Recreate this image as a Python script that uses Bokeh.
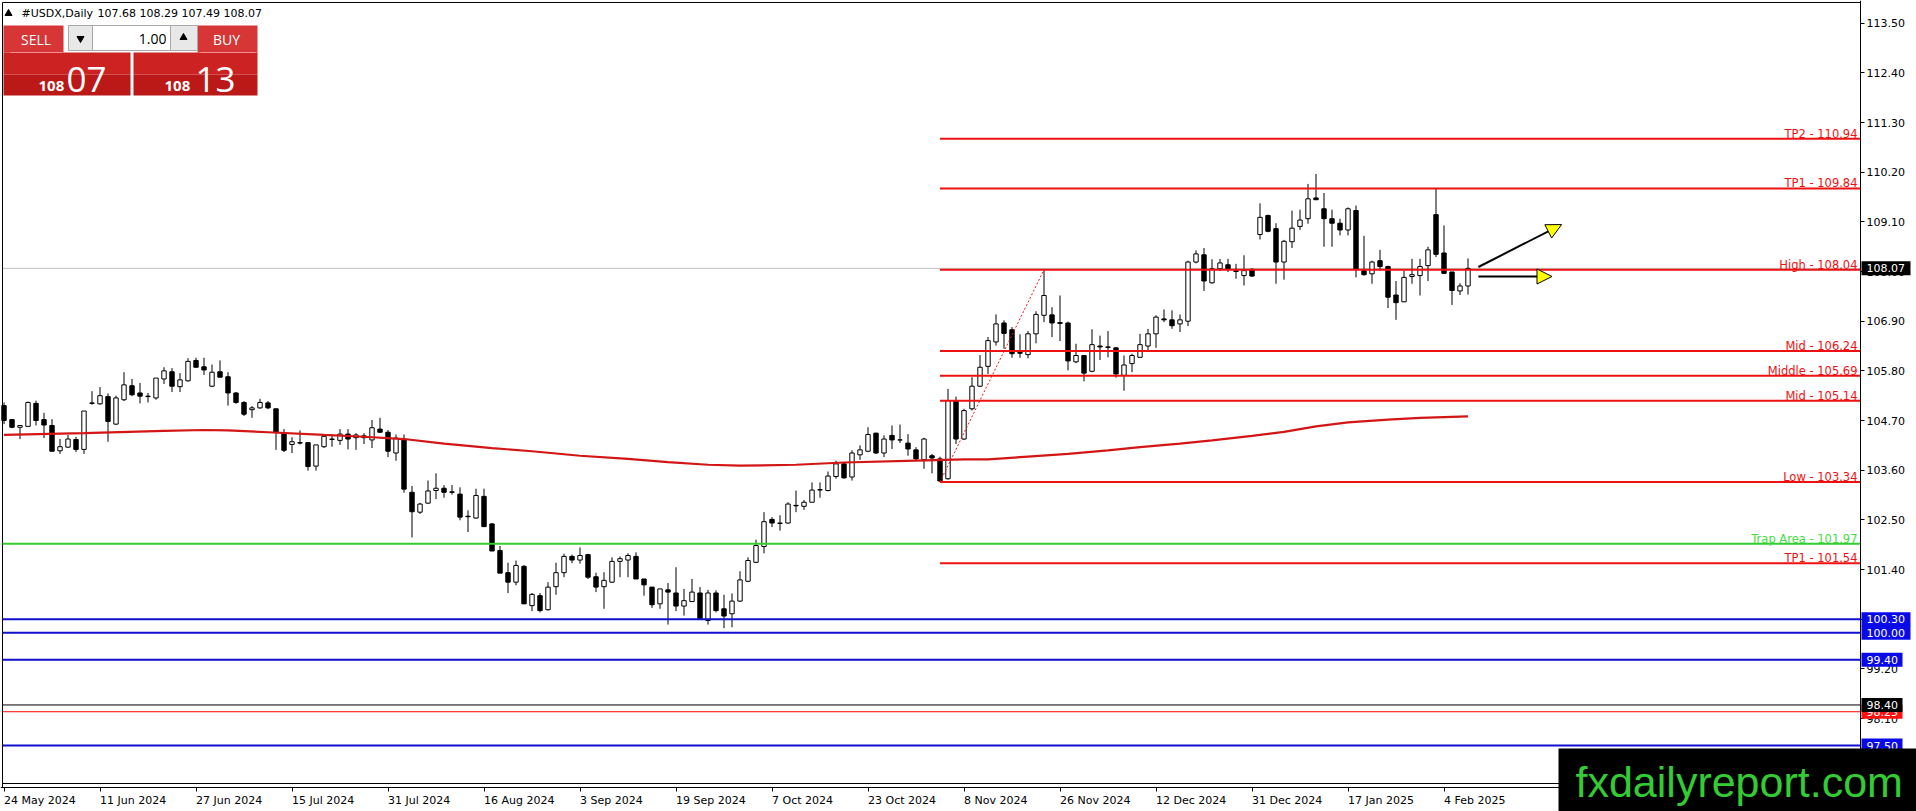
import numpy as np
from bokeh.plotting import figure
from bokeh.models import Range1d, FixedTicker, Arrow, NormalHead, PrintfTickFormatter
from bokeh.core.properties import value
from bokeh.embed import file_html
from bokeh.resources import INLINE

# ---------------- data ----------------
symbol = "#USDX,Daily"
header_ohlc = "107.68 108.29 107.49 108.07"
date_ticks = [0, 12, 24, 36, 48, 60, 72, 84, 96, 108, 120, 132, 144, 156, 168, 180]
date_labels = ["24 May 2024", "11 Jun 2024", "27 Jun 2024", "15 Jul 2024", "31 Jul 2024",
               "16 Aug 2024", "3 Sep 2024", "19 Sep 2024", "7 Oct 2024", "23 Oct 2024",
               "8 Nov 2024", "26 Nov 2024", "12 Dec 2024", "31 Dec 2024", "17 Jan 2025", "4 Feb 2025"]
price_ticks = [97.0, 98.1, 99.2, 100.3, 101.4, 102.5, 103.6, 104.7, 105.8, 106.9,
               108.0, 109.1, 110.2, 111.3, 112.4, 113.5]

opens = [105.03, 104.72, 104.55, 104.57, 105.08, 104.72, 104.59, 104.03, 104.11, 104.28,
         104.06, 105.09, 105.07, 105.23, 104.62, 105.16, 105.47, 105.31, 105.23, 105.20,
         105.62, 105.78, 105.45, 105.58, 106.03, 105.89, 105.46, 105.78, 105.67, 105.31,
         105.10, 104.94, 104.98, 105.09, 104.96, 104.42, 104.17, 104.21, 104.21, 103.69,
         104.12, 104.28, 104.26, 104.40, 104.32, 104.36, 104.27, 104.51, 104.44, 103.98,
         104.29, 103.11, 102.67, 102.87, 103.15, 103.20, 103.12, 103.07, 102.58, 102.54,
         103.02, 102.41, 101.82, 101.33, 101.12, 101.47, 100.60, 100.82, 100.51, 101.02,
         101.33, 101.69, 101.61, 101.73, 101.24, 101.02, 101.12, 101.58, 101.61, 101.69,
         101.19, 101.01, 100.64, 100.95, 100.88, 100.59, 100.69, 100.88, 100.27, 100.88,
         100.53, 100.42, 100.70, 101.14, 101.56, 101.91, 102.51, 102.43, 102.43, 102.82,
         102.80, 102.89, 103.16, 103.15, 103.46, 103.74, 103.45, 103.94, 104.02, 104.42,
         103.98, 104.37, 104.27, 104.20, 104.05, 103.83, 103.92, 103.85, 103.41, 105.13,
         104.29, 104.96, 105.46, 105.90, 106.44, 106.86, 106.71, 106.21, 106.16, 106.62,
         107.03, 107.04, 106.87, 106.86, 106.00, 106.14, 105.79, 106.35, 106.33, 106.31,
         105.70, 105.96, 106.10, 106.35, 106.62, 106.95, 106.93, 106.84, 106.90, 108.21,
         108.37, 107.75, 108.06, 108.15, 108.02, 107.91, 108.05, 108.82, 109.24, 108.95,
         108.21, 108.66, 109.00, 109.17, 109.63, 109.39, 109.17, 109.07, 108.92, 109.35,
         108.02, 107.95, 108.24, 108.11, 107.48, 107.33, 107.89, 107.91, 108.13, 109.26,
         108.41, 107.99, 107.57, 107.68]
highs = [105.10, 104.73, 104.60, 105.12, 105.14, 104.87, 104.73, 104.29, 104.38, 104.34,
         104.91, 105.35, 105.44, 105.30, 105.25, 105.77, 105.62, 105.53, 105.31, 105.64,
         105.88, 105.86, 105.75, 106.08, 106.09, 106.09, 105.94, 106.03, 105.77, 105.33,
         105.13, 105.02, 105.18, 105.13, 104.96, 104.51, 104.33, 104.48, 104.21, 104.16,
         104.40, 104.40, 104.51, 104.51, 104.42, 104.42, 104.71, 104.76, 104.49, 104.39,
         104.39, 103.25, 102.88, 103.37, 103.53, 103.27, 103.27, 103.22, 102.71, 103.19,
         103.19, 102.43, 101.92, 101.55, 101.60, 101.50, 100.88, 100.88, 101.12, 101.55,
         101.75, 101.73, 101.89, 101.75, 101.33, 101.34, 101.67, 101.69, 101.76, 101.78,
         101.19, 101.01, 100.97, 101.10, 101.45, 100.97, 101.19, 101.01, 100.95, 100.94,
         100.84, 100.87, 101.36, 101.67, 102.06, 102.67, 102.56, 102.60, 102.89, 103.15,
         102.94, 103.33, 103.33, 103.57, 103.81, 103.78, 104.04, 104.15, 104.55, 104.43,
         104.37, 104.59, 104.61, 104.40, 104.11, 104.32, 103.96, 103.90, 105.40, 105.23,
         104.96, 105.66, 106.15, 106.55, 107.05, 106.92, 106.77, 106.61, 106.68, 107.12,
         108.04, 107.21, 107.47, 106.89, 106.40, 106.14, 106.72, 106.58, 106.68, 106.33,
         106.14, 106.18, 106.62, 106.73, 107.03, 107.16, 107.14, 107.05, 108.24, 108.47,
         108.52, 108.27, 108.28, 108.28, 108.17, 108.36, 108.07, 109.51, 109.26, 109.07,
         108.70, 109.35, 109.37, 109.94, 110.16, 109.74, 109.37, 109.17, 109.42, 109.46,
         108.79, 108.24, 108.48, 108.13, 107.79, 108.02, 108.28, 108.28, 108.55, 109.85,
         109.02, 107.99, 107.74, 108.29]
lows = [104.62, 104.53, 104.29, 104.56, 104.59, 104.31, 104.02, 103.96, 104.09, 104.00,
        103.96, 105.05, 105.05, 104.23, 104.60, 105.13, 105.24, 105.08, 105.10, 105.16,
        105.51, 105.33, 105.33, 105.56, 105.88, 105.71, 105.44, 105.66, 105.03, 105.07,
        104.80, 104.76, 104.96, 104.95, 104.05, 104.00, 103.98, 104.17, 103.59, 103.59,
        104.09, 104.12, 104.16, 104.06, 104.05, 104.18, 104.09, 104.43, 103.89, 103.81,
        103.10, 102.11, 102.63, 102.86, 102.96, 102.99, 103.06, 102.49, 102.23, 102.52,
        102.34, 101.81, 101.32, 100.88, 101.05, 100.64, 100.48, 100.45, 100.49, 100.84,
        101.23, 101.54, 101.53, 101.19, 100.90, 100.53, 101.10, 101.23, 101.23, 101.19,
        100.82, 100.55, 100.53, 100.18, 100.48, 100.38, 100.68, 100.31, 100.18, 100.45,
        100.10, 100.12, 100.68, 101.12, 101.54, 101.76, 102.34, 102.26, 102.41, 102.67,
        102.72, 102.89, 102.99, 103.13, 103.41, 103.41, 103.37, 103.83, 104.00, 103.96,
        103.89, 104.07, 104.20, 103.92, 103.80, 103.63, 103.53, 103.34, 103.39, 104.18,
        104.27, 104.92, 105.44, 105.73, 106.36, 106.29, 106.09, 106.09, 106.08, 106.41,
        106.88, 106.55, 106.46, 105.81, 105.97, 105.57, 105.77, 106.04, 106.10, 105.65,
        105.36, 105.77, 106.09, 106.24, 106.31, 106.88, 106.73, 106.66, 106.79, 108.18,
        107.57, 107.73, 108.01, 107.99, 107.84, 107.69, 107.88, 108.71, 108.87, 107.73,
        107.82, 108.52, 108.92, 109.06, 109.59, 108.55, 108.55, 108.80, 108.80, 107.87,
        107.91, 107.73, 108.02, 107.19, 106.93, 107.32, 107.73, 107.47, 107.79, 108.32,
        107.95, 107.26, 107.48, 107.49]
closes = [104.70, 104.55, 104.59, 105.10, 104.70, 104.60, 104.02, 104.12, 104.29, 104.06,
          104.91, 105.08, 105.25, 104.68, 105.20, 105.49, 105.27, 105.24, 105.24, 105.64,
          105.80, 105.46, 105.60, 106.01, 105.88, 105.82, 105.77, 105.66, 105.31, 105.10,
          104.84, 104.98, 105.10, 104.98, 104.44, 104.04, 104.23, 104.20, 103.68, 104.16,
          104.35, 104.29, 104.40, 104.29, 104.38, 104.32, 104.54, 104.44, 104.02, 104.31,
          103.18, 102.68, 102.85, 103.14, 103.20, 103.11, 103.11, 102.56, 102.57, 103.04,
          102.35, 101.81, 101.32, 101.12, 101.49, 100.64, 100.85, 100.49, 101.01, 101.33,
          101.69, 101.61, 101.71, 101.23, 101.01, 101.16, 101.58, 101.64, 101.71, 101.19,
          101.06, 100.62, 100.97, 100.90, 100.59, 100.71, 100.90, 100.31, 100.88, 100.49,
          100.37, 100.70, 101.17, 101.60, 101.93, 102.46, 102.43, 102.42, 102.85, 102.81,
          102.89, 103.16, 103.17, 103.47, 103.74, 103.43, 103.98, 104.05, 104.39, 103.98,
          104.29, 104.27, 104.27, 104.07, 103.85, 104.29, 103.87, 103.36, 105.14, 104.29,
          104.92, 105.46, 105.88, 106.47, 106.84, 106.63, 106.18, 106.19, 106.62, 107.05,
          107.47, 106.86, 106.85, 106.02, 106.14, 105.75, 106.38, 106.33, 106.32, 105.73,
          105.93, 106.14, 106.38, 106.62, 106.99, 106.93, 106.80, 106.93, 108.21, 108.39,
          107.79, 108.06, 108.19, 108.06, 108.00, 108.02, 107.90, 109.20, 108.89, 108.21,
          108.67, 108.96, 109.14, 109.61, 109.59, 109.17, 109.07, 108.92, 109.39, 108.06,
          107.93, 108.21, 108.11, 107.43, 107.31, 107.87, 107.93, 108.11, 108.48, 108.38,
          107.96, 107.58, 107.68, 108.07]

# moving average (read at these bars)
ma_bars = [0, 10, 20, 25, 28, 33, 40, 45, 50, 55, 61, 66, 72, 78, 83, 88, 92, 99, 105,
           114, 120, 123, 128, 133, 138, 142, 147, 151, 156, 160, 164, 168, 173, 177, 183]
ma_values = [104.38, 104.42, 104.47, 104.49, 104.48, 104.44, 104.38, 104.34, 104.29, 104.19,
             104.09, 104.02, 103.92, 103.85, 103.78, 103.72, 103.70, 103.72, 103.77,
             103.81, 103.84, 103.84, 103.90, 103.96, 104.04, 104.11, 104.19, 104.26, 104.36,
             104.45, 104.57, 104.66, 104.72, 104.76, 104.79]

level_names = ["TP2", "TP1", "High", "Mid", "Middle", "Mid", "Low", "TP1"]
level_values = [110.94, 109.84, 108.04, 106.24, 105.69, 105.14, 103.34, 101.54]
level_start_bar = 117
trap_name = "Trap Area"
trap_value = 101.97
blue_levels = [100.30, 100.00, 99.40, 97.50]
black_level = 98.40
red_level = 98.25
last_price = 108.07
fib_bars = [117, 130]
fib_prices = [103.34, 108.04]
arrow_up = (184.3, 108.10, 194.7, 109.04)
arrow_flat = (184.3, 107.89, 193.5, 107.89)
bid_big, bid_small = "07", "108"
ask_big, ask_small = "13", "108"
lot = "1.00"
watermark = "fxdailyreport.com"

# ---------------- geometry (page pixel -> data) ----------------
BAR0_PX, BAR_PX = 3.5, 8.0
P_REF, P_REF_PX, UNIT_PX = 113.5, 22.7, 45.15


def bx(X):
    return (X - BAR0_PX) / BAR_PX


def py(Y):
    return P_REF - (Y - P_REF_PX) / UNIT_PX


W, H = 1916, 811
CHART_L, CHART_R, CHART_T, CHART_B = 2, 1860, 2, 787

p = figure(frame_width=W, frame_height=H,
           x_range=Range1d(bx(0), bx(W)), y_range=Range1d(py(H), py(0)),
           output_backend="svg", toolbar_location=None, y_axis_location="right",
           min_border_left=0, min_border_top=0, min_border_right=0, min_border_bottom=0)
p.xgrid.visible = False
p.ygrid.visible = False
p.outline_line_color = None
p.background_fill_color = "white"
p.border_fill_color = "white"

AX_FONT = "DejaVu Sans"
xa = p.xaxis[0]
xa.fixed_location = py(CHART_B)
xa.ticker = FixedTicker(ticks=date_ticks)
xa.major_label_overrides = {t: l for t, l in zip(date_ticks, date_labels)}
xa.major_label_orientation = -0.0001
xa.major_tick_out = 4
xa.major_tick_in = 0
xa.minor_tick_out = 0
xa.minor_tick_in = 0
xa.major_label_standoff = 9
xa.major_label_text_font = AX_FONT
xa.major_label_text_font_size = "11px"
xa.major_label_text_color = "black"
xa.axis_line_color = "black"

ya = p.yaxis[0]
ya.fixed_location = bx(CHART_R)
ya.ticker = FixedTicker(ticks=price_ticks)
ya.formatter = PrintfTickFormatter(format="%.2f")
ya.major_tick_out = 4
ya.major_tick_in = 0
ya.minor_tick_out = 0
ya.minor_tick_in = 0
ya.major_label_standoff = 2
ya.major_label_text_font = AX_FONT
ya.major_label_text_font_size = "11px"
ya.major_label_text_color = "black"
ya.axis_line_color = "black"

XL, XR = bx(CHART_L), bx(CHART_R)


def hline(v, color, width, x0=XL, level="glyph"):
    p.segment(x0=[x0], x1=[XR], y0=[v], y1=[v], line_color=color, line_width=width, level=level)


# chart border (left, top) and second bottom line
p.segment(x0=[XL, XL], x1=[XL, XR], y0=[py(CHART_T), py(CHART_T)], y1=[py(CHART_B), py(CHART_T)],
          line_color="black", line_width=1)
hline(py(783), "black", 1)
# bid line
hline(last_price, "#c0c0c0", 1, level="underlay")

# ---------------- candles ----------------
o = np.array(opens)
h = np.array(highs)
l = np.array(lows)
c = np.array(closes)
idx = np.arange(len(o))
up = c >= o
p.segment(x0=idx, y0=l, x1=idx, y1=h, line_color="black", line_width=1)
p.vbar(x=idx[up], top=c[up], bottom=o[up], width=0.55, fill_color="white", line_color="black",
       line_width=1)
p.vbar(x=idx[~up], top=o[~up], bottom=c[~up], width=0.55, fill_color="black", line_color="black",
       line_width=1)

# moving average
p.line(ma_bars, ma_values, line_color="#d41515", line_width=2.2)

# ---------------- levels ----------------
RED = "#ee1111"
n = len(level_values)
p.segment(x0=[level_start_bar] * n, x1=[XR] * n, y0=level_values, y1=level_values,
          line_color=RED, line_width=2)
hline(trap_value, "#33cc33", 2)
for v in blue_levels:
    hline(v, "#1010cc", 2)
hline(black_level, "black", 1)
hline(red_level, "#ff0000", 1)

p.line(fib_bars, fib_prices, line_color=RED, line_width=1, line_dash="2 2")

lab_x = bx(1857)
p.text(x=[lab_x] * n, y=level_values, text=[f"{nm} - {v:.2f}" for nm, v in zip(level_names, level_values)],
       text_align="right", text_baseline="alphabetic", y_offset=-5, text_color=RED,
       text_font=value(AX_FONT), text_font_size="11.5px")
p.text(x=[lab_x], y=[trap_value], text=[f"{trap_name} - {trap_value:.2f}"],
       text_align="right", text_baseline="alphabetic", y_offset=-5, text_color="#44dd44",
       text_font=value(AX_FONT), text_font_size="11.5px")

# arrows
for (x0, y0, x1, y1) in (arrow_up, arrow_flat):
    p.add_layout(Arrow(end=NormalHead(size=15, fill_color="#ffff00", line_color="black", line_width=1),
                       x_start=x0, y_start=y0, x_end=x1, y_end=y1, line_color="black", line_width=2))

# ---------------- header & trade panel ----------------
p.scatter([bx(8)], [py(13)], marker="triangle", size=7, color="black")
p.text(x=[bx(21)], y=[py(13)], text=[symbol], text_baseline="middle", text_align="left",
       text_font=value(AX_FONT), text_font_size="11px", text_color="black")
p.text(x=[bx(97)], y=[py(13)], text=[header_ohlc], text_baseline="middle", text_align="left",
       text_font=value(AX_FONT), text_font_size="11px", text_color="black")


def box(X0, X1, Y0, Y1, fill, line=None, level="glyph"):
    p.quad(left=bx(X0), right=bx(X1), top=py(Y0), bottom=py(Y1), fill_color=fill,
           line_color=line, line_width=1, level=level)


box(3, 63, 25, 52, "#d63636")
box(197, 257, 25, 52, "#d63636")
box(68, 92, 25, 50, "#e8e8e8", "#a8a8a8")
box(92, 170, 25, 50, "white", "#a8a8a8")
box(170, 197, 25, 50, "#e8e8e8", "#a8a8a8")
box(3, 130, 52, 74, "#cc2222")
box(3, 130, 74, 95, "#bb1818")
box(133, 257, 52, 74, "#cc2222")
box(133, 257, 74, 95, "#bb1818")
p.segment(x0=[bx(10), bx(200)], x1=[bx(62), bx(255)], y0=[py(52)] * 2, y1=[py(52)] * 2,
          line_color="#f09090", line_width=1)
p.scatter([bx(80)], [py(38)], marker="inverted_triangle", size=7, color="black")
p.scatter([bx(183)], [py(37)], marker="triangle", size=7, color="black")
PF = value("Open Sans")
p.text(x=[bx(35.5), bx(226)], y=[py(38.5)] * 2, text=["SELL", "BUY"], text_align="center",
       text_baseline="middle", text_color="white", text_font=PF, text_font_size="14px")
p.text(x=[bx(166)], y=[py(38)], text=[lot], text_align="right", text_baseline="middle",
       text_color="black", text_font=PF, text_font_size="14px")
p.text(x=[bx(38), bx(164)], y=[py(88)] * 2, text=[bid_small, ask_small], text_align="left",
       text_baseline="alphabetic", y_offset=-3, text_color="white", text_font=PF,
       text_font_size="15px", text_font_style="bold")
p.text(x=[bx(66), bx(195)], y=[py(87)] * 2, text=[bid_big, ask_big], text_align="left",
       text_baseline="alphabetic", y_offset=-8, text_color="white", text_font=PF,
       text_font_size="35px")

# ---------------- right-axis price tags (drawn above the axis) ----------------
BLUE_TAG = "#0a0ae8"


def tag(v, bg, fg="white"):
    s = f"{v:.2f}"
    right = 1910 if len(s) > 5 else 1902
    p.quad(left=[bx(1861)], right=[bx(right)], top=[v + 7 / UNIT_PX], bottom=[v - 7 / UNIT_PX],
           fill_color=bg, line_color=None, level="overlay")
    p.text(x=[bx(1866)], y=[v], text=[s], text_align="left", text_baseline="middle",
           text_font=value(AX_FONT), text_font_size="11px", text_color=fg, level="overlay")


for v in blue_levels:
    tag(v, BLUE_TAG)
tag(red_level, "#ff1010")
tag(black_level, "black")
tag(last_price, "black")

# watermark
box(1558, W, 748, H, "black", level="overlay")
p.text(x=[bx(1575)], y=[py(790)], text=[watermark], text_align="left", text_baseline="alphabetic",
       y_offset=-9, text_font=value("Liberation Sans"), text_font_size="43px", text_color="#33cc33",
       level="overlay")

open("out.html", "w").write(file_html(p, INLINE))
